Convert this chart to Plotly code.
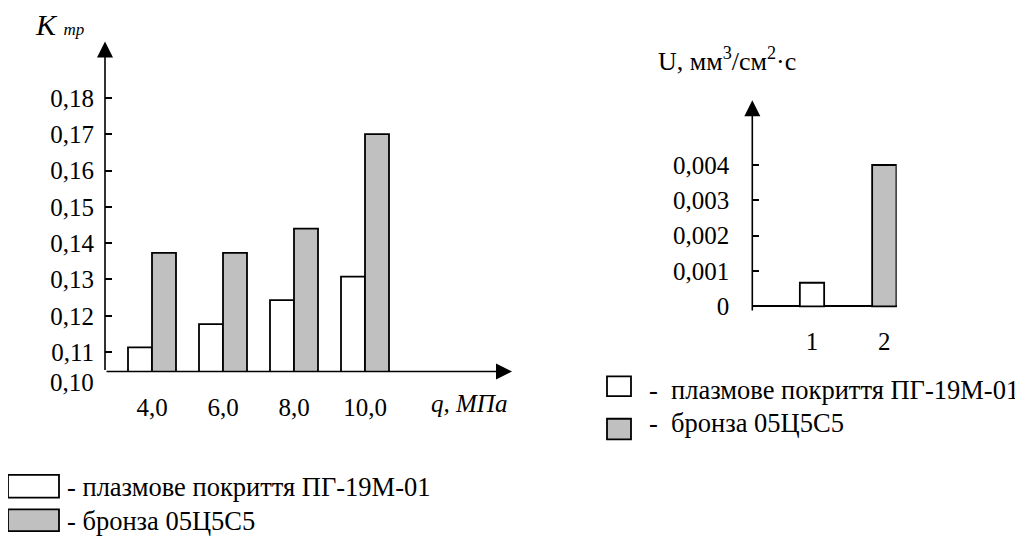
import plotly.graph_objects as go

# ---------------- data ----------------
pressure_labels = ["4,0", "6,0", "8,0", "10,0"]
friction_plasma = [0.1113, 0.1177, 0.1243, 0.1308]
friction_bronze = [0.1373, 0.1373, 0.1440, 0.1700]
friction_ticks = [0.11, 0.12, 0.13, 0.14, 0.15, 0.16, 0.17, 0.18]
friction_ticktext = ["0,11", "0,12", "0,13", "0,14", "0,15", "0,16", "0,17", "0,18"]

wear_labels = ["1", "2"]
wear_plasma = [0.00067]
wear_bronze = [0.0040]
wear_ticks = [0, 0.001, 0.002, 0.003, 0.004]
wear_ticktext = ["0", "0,001", "0,002", "0,003", "0,004"]

name_plasma = "плазмове покриття ПГ-19М-01"
name_bronze = "бронза 05Ц5С5"

# ---------------- styling ----------------
OFF = 8                      # default page margin of the html body
W, H = 1023 - OFF, 542 - OFF
FONT = "Liberation Serif"
GREY = "#c0c0c0"
LW = 1.8
FS = 25


def px(x):
    return (x - OFF) / W


def py(y):
    return 1 - (y - OFF) / H


# left chart geometry (screen pixels)
L_x0, L_x1, L_y0, L_y1 = 105, 512, 377, 42
L_c0, L_step = 152, 71.0
L_xr = [(L_x0 - L_c0) / L_step, (L_x1 - L_c0) / L_step]
L_scale = 3686.0  # px per unit
L_yr = [0.11 - (L_y0 - 357.3) / L_scale, 0.11 + (357.3 - L_y1) / L_scale]
BW = 24 / L_step

# right chart geometry (screen pixels)
R_x0, R_x1, R_y0, R_y1 = 752.3, 896.7, 316.7, 101.7
R_c0, R_step = 812, 72.3
R_xr = [(R_x0 - R_c0) / R_step, (R_x1 - R_c0) / R_step]
R_zero = 311
R_scale = 35900.0
R_yr = [-(R_y0 - R_zero) / R_scale, (R_zero - R_y1) / R_scale]
RBW = 24.3 / R_step

xpos_left = list(range(len(pressure_labels)))

fig = go.Figure()
fig.add_trace(go.Bar(x=xpos_left, y=friction_plasma, name=name_plasma,
                     width=BW, offset=-BW, xaxis="x", yaxis="y",
                     marker=dict(color="white", line=dict(color="black", width=LW)),
                     showlegend=False))
fig.add_trace(go.Bar(x=xpos_left, y=friction_bronze, name=name_bronze,
                     width=BW, offset=0, xaxis="x", yaxis="y",
                     marker=dict(color=GREY, line=dict(color="black", width=LW)),
                     showlegend=False))
fig.add_trace(go.Bar(x=[0], y=wear_plasma, name=name_plasma,
                     width=RBW, offset=-RBW / 2, xaxis="x2", yaxis="y2",
                     marker=dict(color="white", line=dict(color="black", width=LW)),
                     showlegend=False))
fig.add_trace(go.Bar(x=[1], y=wear_bronze, name=name_bronze,
                     width=RBW, offset=-RBW / 2, xaxis="x2", yaxis="y2",
                     marker=dict(color=GREY, line=dict(color="black", width=LW)),
                     showlegend=False))

tickfont = dict(family=FONT, size=FS, color="black")

fig.update_layout(
    width=W, height=H,
    margin=dict(l=0, r=0, t=0, b=0),
    paper_bgcolor="white", plot_bgcolor="rgba(0,0,0,0)",
    barmode="overlay",
    font=dict(family=FONT, color="black"),
    xaxis=dict(domain=[px(L_x0), px(L_x1)], range=L_xr, showgrid=False,
               zeroline=False, showline=False, tickvals=xpos_left,
               ticktext=pressure_labels, ticks="", tickfont=tickfont,
               ticklabelstandoff=19, anchor="y"),
    yaxis=dict(domain=[py(L_y0), py(L_y1)], range=L_yr, showgrid=False,
               zeroline=False, showline=False, tickvals=friction_ticks,
               ticktext=friction_ticktext, ticks="inside", ticklen=7,
               tickwidth=1.5, tickcolor="black", tickfont=tickfont,
               ticklabelstandoff=10, anchor="x"),
    xaxis2=dict(domain=[px(R_x0), px(R_x1)], range=R_xr, showgrid=False,
                zeroline=False, showline=False, tickvals=[0, 1],
                ticktext=wear_labels, ticks="", tickfont=tickfont,
                ticklabelstandoff=12, anchor="y2"),
    yaxis2=dict(domain=[py(R_y0), py(R_y1)], range=R_yr, showgrid=False,
                zeroline=True, zerolinecolor="black", zerolinewidth=LW,
                showline=False, tickvals=wear_ticks, ticktext=wear_ticktext,
                ticks="inside", ticklen=7, tickwidth=1.5, tickcolor="black",
                tickfont=tickfont, ticklabelstandoff=22, anchor="x2"),
)

ann = []
# axis arrows
arrow = dict(text="", showarrow=True, arrowhead=2, arrowsize=2, arrowwidth=1.6,
             arrowcolor="black", standoff=0, startstandoff=0)
ann.append(dict(arrow, xref="x", yref="y", axref="x", ayref="y",
                x=L_xr[0], y=L_yr[1], ax=L_xr[0], ay=L_yr[0]))
ann.append(dict(arrow, xref="x", yref="y", axref="x", ayref="y",
                x=L_xr[1], y=L_yr[0], ax=L_xr[0], ay=L_yr[0]))
ann.append(dict(arrow, xref="x2", yref="y2", axref="x2", ayref="y2",
                x=R_xr[0], y=R_yr[1], ax=R_xr[0], ay=R_yr[0]))

# texts
ann.append(dict(text="0,10", xref="paper", yref="paper", x=px(96), y=py(388),
                xanchor="right", yanchor="middle", showarrow=False, font=tickfont))
ann.append(dict(text="<i>q, МПа</i>", xref="paper", yref="paper", x=px(469), y=py(410),
                xanchor="center", yanchor="middle", showarrow=False, font=tickfont))
ann.append(dict(text="<i>K</i> <span style='font-size:17px'><i>тр</i></span>",
                xref="paper", yref="paper", x=px(33), y=py(25),
                xanchor="left", yanchor="middle", showarrow=False,
                font=dict(family=FONT, size=30, color="black")))
ann.append(dict(text="U, мм<sup>3</sup>/см<sup>2</sup>·с",
                xref="paper", yref="paper", x=px(656), y=py(60),
                xanchor="left", yanchor="middle", showarrow=False,
                font=dict(family=FONT, size=26, color="black")))

# legends (drawn boxes + labels)
shapes = []


def legend_item(x0, y0, x1, y1, fill, label, tx, ty, size, gap):
    shapes.append(dict(type="rect", xref="paper", yref="paper",
                       x0=px(x0), x1=px(x1), y0=py(y1), y1=py(y0),
                       fillcolor=fill, line=dict(color="black", width=LW)))
    ann.append(dict(text="-" + "\u00a0" * gap + label, xref="paper", yref="paper",
                    x=px(tx), y=py(ty), xanchor="left", yanchor="middle",
                    showarrow=False, font=dict(family=FONT, size=size, color="black")))


legend_item(8, 482, 59, 505, "white", name_plasma, 65, 494, 26.5, 1)
legend_item(8, 517, 59, 539, GREY, name_bronze, 65, 529, 26.5, 1)
legend_item(607, 382, 631, 402, "white", name_plasma, 647, 396, 26.5, 2)
legend_item(607, 425, 631, 446, GREY, name_bronze, 647, 429, 26.5, 2)

fig.update_layout(annotations=ann, shapes=shapes)

fig.write_html("out.html")
